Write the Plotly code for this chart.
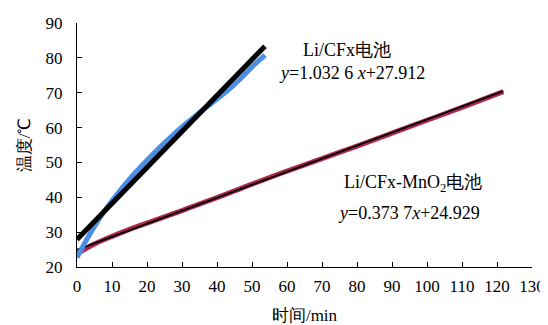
import plotly.graph_objects as go

# Li/CFx measured data
cfx_t = [0, 2, 4, 6, 8, 10, 15, 20, 25, 30, 35, 40, 43, 45, 48, 50, 53.7]
cfx_T = [22.7, 26.5, 30.0, 33.2, 36.3, 39.0, 45.2, 50.6, 55.6, 60.2, 64.3, 68.2, 70.6, 72.4, 75.3, 77.4, 80.8]

# Li/CFx-MnO2 measured data
mno_t = [0, 5, 10, 15, 20, 30, 40, 50, 60, 70, 80, 90, 100, 110, 121.8]
mno_T = [23.8, 26.6, 28.8, 30.8, 32.6, 36.2, 39.9, 43.8, 47.5, 51.1, 54.7, 58.4, 62.1, 65.8, 70.3]

# linear fits (slope, intercept) from the chart
fit_cfx = (1.0326, 27.912)
fit_mno = (0.3737, 24.929)
fit_cfx_x = [0, 53.7]
fit_mno_x = [0, 121.8]

x_ticks = list(range(0, 131, 10))
y_ticks = list(range(20, 91, 10))

FONT = "Liberation Serif"

fig = go.Figure()
fig.add_trace(go.Scatter(x=mno_t, y=mno_T, mode="lines",
                         line=dict(color="#b0264f", width=5), line_shape="spline"))
fig.add_trace(go.Scatter(x=fit_mno_x, y=[fit_mno[0] * v + fit_mno[1] for v in fit_mno_x],
                         mode="lines", line=dict(color="black", width=1.8)))
fig.add_trace(go.Scatter(x=cfx_t, y=cfx_T, mode="lines",
                         line=dict(color="#4a8ee6", width=5), line_shape="spline"))
fig.add_trace(go.Scatter(x=fit_cfx_x, y=[fit_cfx[0] * v + fit_cfx[1] for v in fit_cfx_x],
                         mode="lines", line=dict(color="black", width=5)))

# page has an 8px body margin, so the figure is shifted by 8px
W, H = 540, 317
L, R, T, B = 69, 524, 15, 259

fig.update_layout(
    width=W, height=H,
    margin=dict(l=L, r=W - R, t=T, b=H - B),
    paper_bgcolor="white", plot_bgcolor="white",
    showlegend=False,
    font=dict(family=FONT, size=17, color="black"),
    xaxis=dict(range=[0, 130], tickvals=x_ticks, ticks="inside", ticklen=5,
               showline=True, linecolor="black", linewidth=1, tickcolor="black",
               showgrid=False, zeroline=False, automargin=False, ticklabelstandoff=4,
               title=dict(text="时间/min", font=dict(family=FONT, size=17), standoff=18)),
    yaxis=dict(range=[20, 90], tickvals=y_ticks, ticks="inside", ticklen=5,
               showline=True, linecolor="black", linewidth=1, tickcolor="black",
               showgrid=False, zeroline=False, automargin=False, ticklabelstandoff=10,
               title=dict(text="温度/℃", font=dict(family=FONT, size=17), standoff=10)),
)

def px2paper(px, py):
    # px, py in page pixels of the reference
    fx, fy = px - 8, py - 8
    return (fx - L) / (R - L), (B - fy) / (B - T)

ann_font = dict(family=FONT, size=18, color="black")
for (px, py, txt) in [
    (347, 50, "Li/CFx电池"),
    (352, 73, "<i>y</i>=1.032 6 <i>x</i>+27.912"),
    (413, 183, "Li/CFx-MnO<sub>2</sub>电池"),
    (409, 213, "<i>y</i>=0.373 7<i>x</i>+24.929"),
]:
    ax, ay = px2paper(px, py)
    fig.add_annotation(x=ax, y=ay, xref="paper", yref="paper", text=txt,
                       xanchor="center", yanchor="middle",
                       showarrow=False, font=ann_font)

fig.write_html("out.html")
